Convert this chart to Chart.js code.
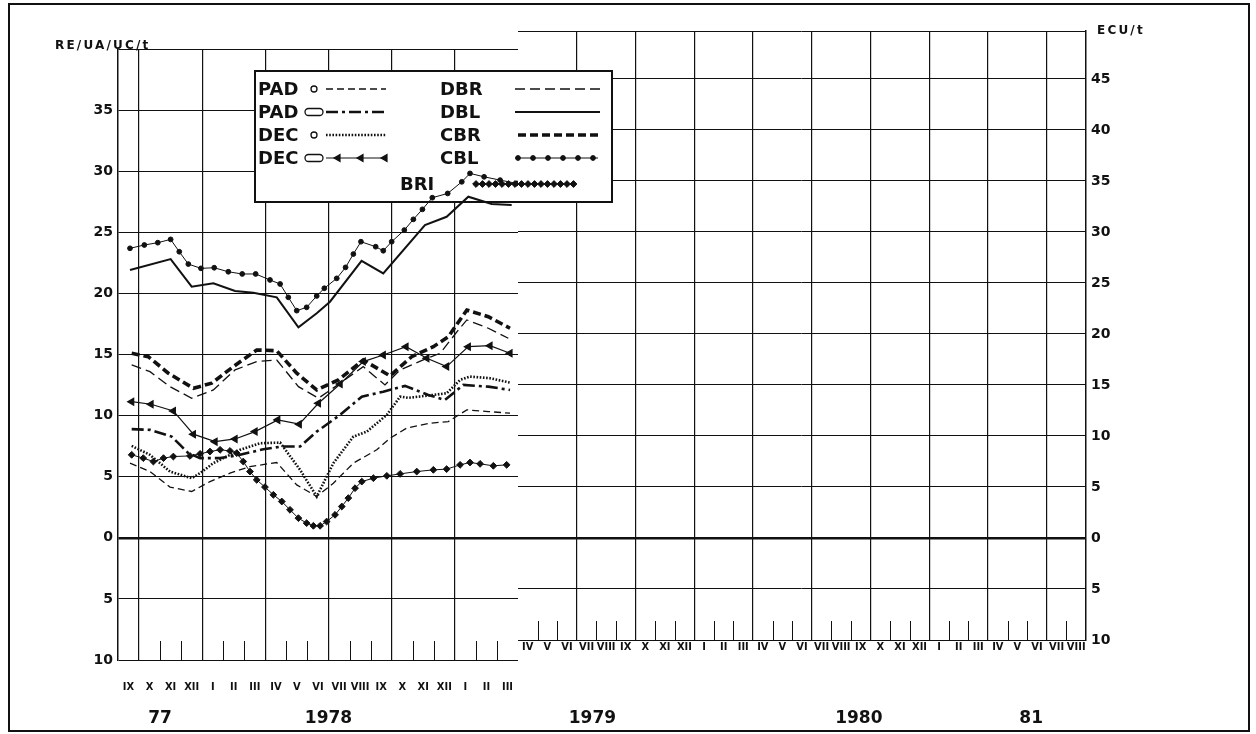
<!DOCTYPE html>
<html>
<head>
<meta charset="utf-8">
<script src="https://cdn.jsdelivr.net/npm/chart.js@4.4.1/dist/chart.umd.min.js"></script>
<style>
  body { margin: 0; background: #fff; }
  #frame { position: absolute; left: 8px; top: 3px; width: 1242px; height: 729px; border: 2px solid #111; box-sizing: border-box; }
  canvas { position: absolute; left: 0; top: 0; }
</style>
</head>
<body>
<div id="frame"></div>
<canvas id="right" width="1256" height="734"></canvas>
<canvas id="left" width="1256" height="734"></canvas>
<script>
// months counted from the start of IX 1977 (left) and IV 1979 (right)
const leftMonths = ['IX','X','XI','XII','I','II','III','IV','V','VI','VII','VIII','IX','X','XI','XII','I','II','III'];
const leftYears = ['77', '1978'];
const leftYearAt = [2.0, 10.0];
const rightMonths = ['IV','V','VI','VII','VIII','IX','X','XI','XII','I','II','III','IV','V','VI','VII','VIII','IX','X','XI','XII','I','II','III','IV','V','VI','VII','VIII'];
const rightYears = ['1979', '1980', '81'];
const rightYearAt = [3.8, 17.4, 26.2];
const leftTicks = [-10, -5, 0, 5, 10, 15, 20, 25, 30, 35, 40];
const rightTicks = [-10, -5, 0, 5, 10, 15, 20, 25, 30, 35, 40, 45, 49.7];

// PAD o
const padoM = [0.57,1.52,2.47,3.5,4.37,5.32,6.27,7.54,8.49,9.44,10.23,11.18,12.29,12.92,13.71,14.82,15.69,16.57,17.59,18.62];
const padoV = [6.11,5.42,4.15,3.79,4.6,5.29,5.83,6.16,4.33,3.38,4.47,6.11,7.2,8.15,8.97,9.38,9.51,10.47,10.33,10.2];
// PAD (pill)
const padlM = [0.65,1.52,2.55,2.95,3.34,3.9,4.85,5.8,6.9,7.78,8.65,9.44,10.55,11.58,12.6,13.63,14.74,15.53,16.4,17.59,18.62];
const padlV = [8.89,8.83,8.28,7.6,6.93,6.52,6.52,6.79,7.25,7.47,7.47,8.69,10.06,11.55,11.96,12.43,11.69,11.28,12.51,12.37,12.1];
// DEC o
const decoM = [0.65,1.52,2.47,3.5,3.9,4.53,5.8,6.75,7.7,8.65,9.44,10.23,11.18,11.82,12.77,13.4,13.78,14.96,15.61,16.25,16.72,17.67,18.62];
const decoV = [7.52,6.79,5.42,4.88,5.29,6.11,7.2,7.74,7.79,5.56,3.38,6.11,8.28,8.69,10.06,11.55,11.45,11.69,11.83,12.92,13.19,13.06,12.7];
// DEC (pill)
const declM = [0.65,1.57,2.63,3.58,4.61,5.56,6.51,7.59,8.61,9.52,10.55,11.65,12.6,13.68,14.67,15.61,16.64,17.67,18.62];
const declV = [11.14,10.93,10.38,8.48,7.87,8.09,8.69,9.65,9.3,11.01,12.59,14.42,14.96,15.64,14.69,14.01,15.64,15.72,15.1];
// DBR
const dbrM = [0.65,1.52,2.47,3.5,4.53,5.56,6.59,7.54,8.57,9.52,10.55,11.65,12.68,13.4,14.67,15.3,16.17,16.57,17.59,18.54];
const dbrV = [14.15,13.6,12.37,11.42,12.1,13.74,14.42,14.55,12.37,11.42,12.65,14.01,12.51,13.74,14.69,15.1,17.01,17.83,17.15,16.33];
// DBL
const dblM = [0.57,2.5,3.5,4.53,5.56,6.43,7.54,8.57,9.44,10.07,11.57,12.6,14.58,15.61,16.64,17.75,18.7];
const dblV = [21.91,22.81,20.55,20.83,20.2,20.06,19.68,17.23,18.37,19.32,22.67,21.64,25.59,26.27,27.91,27.31,27.23];
// CBR
const cbrM = [0.65,1.44,2.39,3.58,4.45,5.48,6.59,7.54,8.49,9.44,10.47,11.65,12.92,13.95,14.98,15.69,16.57,17.59,18.62];
const cbrV = [15.1,14.82,13.47,12.24,12.65,14.01,15.37,15.31,13.47,12.1,12.92,14.55,13.25,14.82,15.64,16.46,18.64,18.09,17.15];
// CBL
const cblM = [0.57,1.25,1.89,2.5,2.91,3.34,3.94,4.57,5.24,5.9,6.54,7.22,7.7,8.09,8.49,8.96,9.44,9.8,10.39,10.81,11.18,11.54,12.24,12.6,13.0,13.6,14.03,14.46,14.93,15.66,16.33,16.72,17.39,18.15,18.94];
const cblV = [23.69,23.96,24.15,24.42,23.41,22.4,22.05,22.1,21.77,21.59,21.59,21.1,20.77,19.68,18.59,18.86,19.79,20.42,21.23,22.13,23.22,24.23,23.82,23.49,24.23,25.18,26.06,26.88,27.83,28.18,29.13,29.82,29.54,29.27,29.0];
// BRI
const briM = [0.65,1.2,1.68,2.16,2.63,3.42,3.9,4.37,4.85,5.32,5.64,5.95,6.27,6.59,6.98,7.38,7.78,8.17,8.57,8.96,9.28,9.6,9.91,10.31,10.63,10.94,11.26,11.58,12.13,12.77,13.4,14.19,14.98,15.61,16.25,16.72,17.2,17.83,18.46];
const briV = [6.79,6.52,6.24,6.52,6.65,6.7,6.87,7.06,7.2,7.11,6.93,6.24,5.42,4.74,4.15,3.52,2.97,2.29,1.61,1.2,0.98,0.98,1.33,1.88,2.56,3.25,4.06,4.6,4.88,5.07,5.23,5.42,5.56,5.62,5.97,6.16,6.05,5.89,5.97];

const INK = '#111';
const FONT = '"DejaVu Sans", "Liberation Sans", sans-serif';
const NARROW = '"Liberation Sans Narrow", "DejaVu Sans Condensed", "Liberation Sans", sans-serif';

function pts(ms, vs) { return ms.map((m, i) => ({ x: m, y: vs[i] })); }

const leftQuarter = v => v > 0 && v < 19 && (v - 1) % 3 === 0;
const rightQuarter = v => v > 0 && v < 29 && v % 3 === 0;

// month boundary marks standing on the bottom line
const monthTicks = {
  id: 'monthTicks',
  afterDraw(chart, args, opts) {
    const x = chart.scales.x, a = chart.chartArea, ctx = chart.ctx;
    ctx.save();
    ctx.strokeStyle = INK;
    ctx.lineWidth = 1;
    for (let v = x.min + 1; v < x.max; v++) {
      if (opts.quarter(v)) continue;
      const px = Math.round(x.getPixelForValue(v)) + 0.5;
      ctx.beginPath();
      ctx.moveTo(px, a.bottom);
      ctx.lineTo(px, a.bottom - 19);
      ctx.stroke();
    }
    ctx.restore();
  }
};

const unitTitle = {
  id: 'unitTitle',
  afterDraw(chart, args, opts) {
    const ctx = chart.ctx;
    ctx.save();
    ctx.font = 'bold 12px ' + FONT;
    ctx.letterSpacing = '2.2px';
    ctx.fillStyle = INK;
    ctx.textBaseline = 'middle';
    ctx.fillText(opts.text, opts.x, opts.y);
    ctx.restore();
  }
};

// legend box, drawn under the lines
const legendRows = [
  { ds: 0, text: 'PAD', tx: 258, y: 89, sym: 'circle', x1: 326, x2: 386 },
  { ds: 1, text: 'PAD', tx: 258, y: 112, sym: 'pill', x1: 326, x2: 386 },
  { ds: 2, text: 'DEC', tx: 258, y: 135, sym: 'circle', x1: 326, x2: 386 },
  { ds: 3, text: 'DEC', tx: 258, y: 158, sym: 'pill', x1: 326, x2: 386, marks: [338, 361, 385] },
  { ds: 4, text: 'DBR', tx: 440, y: 89, x1: 515, x2: 600 },
  { ds: 5, text: 'DBL', tx: 440, y: 112, x1: 515, x2: 600 },
  { ds: 6, text: 'CBR', tx: 440, y: 135, x1: 518, x2: 598 },
  { ds: 7, text: 'CBL', tx: 440, y: 158, x1: 515, x2: 598, step: 15 },
  { ds: 8, text: 'BRI', tx: 400, y: 184, x1: 473, x2: 576, step: 6.5 }
];
const legendBox = {
  id: 'legendBox',
  beforeDatasetsDraw(chart) {
    const ctx = chart.ctx;
    ctx.save();
    ctx.fillStyle = '#fff';
    ctx.fillRect(255, 71, 357, 131);
    ctx.strokeStyle = INK;
    ctx.lineWidth = 2;
    ctx.strokeRect(255, 71, 357, 131);
    ctx.font = 'bold 18px ' + FONT;
    ctx.textBaseline = 'middle';
    ctx.fillStyle = INK;
    legendRows.forEach(r => {
      const d = chart.data.datasets[r.ds];
      ctx.fillText(r.text, r.tx, r.y + 1);
      ctx.lineWidth = 1.3;
      ctx.setLineDash([]);
      if (r.sym === 'circle') {
        ctx.beginPath(); ctx.arc(314, r.y, 3, 0, Math.PI * 2); ctx.stroke();
      } else if (r.sym === 'pill') {
        ctx.beginPath(); ctx.roundRect(305, r.y - 3.5, 18, 7, 3.5); ctx.stroke();
      }
      ctx.lineWidth = d.borderWidth;
      ctx.setLineDash(d.borderDash || []);
      ctx.beginPath(); ctx.moveTo(r.x1, r.y); ctx.lineTo(r.x2, r.y); ctx.stroke();
      ctx.setLineDash([]);
      const pOpt = { pointStyle: d.pointStyle, radius: d.pointRadius, rotation: d.rotation || 0, borderWidth: 1 };
      ctx.fillStyle = INK;
      if (r.marks) r.marks.forEach(mx => Chart.helpers.drawPoint(ctx, pOpt, mx, r.y));
      if (r.step) for (let mx = r.x1 + 3; mx <= r.x2; mx += r.step) Chart.helpers.drawPoint(ctx, pOpt, mx, r.y);
    });
    ctx.restore();
  }
};

function bottomAxis(weight, height, ticksAt, labels, font, pad, max) {
  return {
    type: 'linear', min: 0, max: max, position: 'bottom', weight: weight,
    afterBuildTicks: s => { s.ticks = ticksAt.map(v => ({ value: v })); },
    afterFit: s => { s.height = height; },
    grid: { display: false, drawTicks: false },
    border: { display: false },
    ticks: { autoSkip: false, maxRotation: 0, padding: pad, color: INK, font: font,
             callback: (v, i) => labels[i] }
  };
}

const leftBoundaries = leftMonths.map((m, i) => i).concat([leftMonths.length]);
const rightBoundaries = rightMonths.map((m, i) => i).concat([rightMonths.length]);

new Chart(document.getElementById('left'), {
  type: 'line',
  data: {
    datasets: [
      { label: 'PAD o', data: pts(padoM, padoV), borderColor: INK, borderWidth: 1.3, borderDash: [7, 4] },
      { label: 'PAD pill', data: pts(padlM, padlV), borderColor: INK, borderWidth: 2.6, borderDash: [12, 4, 3, 4] },
      { label: 'DEC o', data: pts(decoM, decoV), borderColor: INK, borderWidth: 2.6, borderDash: [1.6, 1.6] },
      { label: 'DEC pill', data: pts(declM, declV), borderColor: INK, borderWidth: 1.2,
        pointStyle: 'triangle', rotation: -90, pointRadius: 4, pointBackgroundColor: INK, pointBorderColor: INK },
      { label: 'DBR', data: pts(dbrM, dbrV), borderColor: INK, borderWidth: 1.3, borderDash: [10, 5] },
      { label: 'DBL', data: pts(dblM, dblV), borderColor: INK, borderWidth: 2 },
      { label: 'CBR', data: pts(cbrM, cbrV), borderColor: INK, borderWidth: 3.6, borderDash: [8, 4] },
      { label: 'CBL', data: pts(cblM, cblV), borderColor: INK, borderWidth: 1,
        pointStyle: 'circle', pointRadius: 2.4, pointBackgroundColor: INK, pointBorderColor: INK },
      { label: 'BRI', data: pts(briM, briV), borderColor: INK, borderWidth: 1,
        pointStyle: 'rectRot', pointRadius: 3.4, pointBackgroundColor: INK, pointBorderColor: INK }
    ]
  },
  options: {
    responsive: false,
    animation: false,
    layout: { padding: { left: 0, right: 738, top: 49, bottom: 0 } },
    elements: { line: { tension: 0 }, point: { radius: 0, hoverRadius: 0 } },
    plugins: {
      legend: { display: false },
      tooltip: { enabled: false },
      monthTicks: { quarter: leftQuarter },
      unitTitle: { text: 'RE/UA/UC/t', x: 55, y: 46 }
    },
    scales: {
      x: {
        type: 'linear', min: 0, max: leftMonths.length, position: 'bottom', weight: 0,
        afterBuildTicks: s => { s.ticks = leftBoundaries.map(v => ({ value: v })); },
        afterFit: s => { s.height = 0; },
        ticks: { display: false },
        border: { display: false },
        grid: { drawTicks: false, lineWidth: 1.2, color: c => leftQuarter(c.tick.value) ? INK : 'rgba(0,0,0,0)' }
      },
      xm: bottomAxis(1, 36, leftMonths.map((m, i) => i + 0.5), leftMonths, { family: NARROW, size: 11, weight: 'bold' }, 21, leftMonths.length),
      xy: bottomAxis(2, 38, leftYearAt, leftYears, { family: FONT, size: 17, weight: 'bold' }, 12, leftMonths.length),
      y: {
        type: 'linear', min: -10, max: 40, position: 'left',
        afterBuildTicks: s => { s.ticks = leftTicks.map(v => ({ value: v })); },
        afterFit: s => { s.width = 118; },
        border: { display: true, color: INK, width: 1.5 },
        grid: { drawTicks: false, color: INK, lineWidth: c => c.tick.value === 0 ? 2.6 : 1 },
        ticks: { padding: 5, color: INK, font: { family: FONT, size: 14, weight: 'bold' },
                 callback: v => v === 40 ? '' : String(Math.abs(v)) }
      }
    }
  },
  plugins: [legendBox, monthTicks, unitTitle]
});

new Chart(document.getElementById('right'), {
  type: 'line',
  data: { datasets: [] },
  options: {
    responsive: false,
    animation: false,
    layout: { padding: { left: 518, right: 0, top: 31, bottom: 0 } },
    plugins: {
      legend: { display: false },
      tooltip: { enabled: false },
      monthTicks: { quarter: rightQuarter },
      unitTitle: { text: 'ECU/t', x: 1097, y: 31 }
    },
    scales: {
      x: {
        type: 'linear', min: 0, max: rightMonths.length, position: 'bottom', weight: 0,
        afterBuildTicks: s => { s.ticks = rightBoundaries.map(v => ({ value: v })); },
        afterFit: s => { s.height = 0; },
        ticks: { display: false },
        border: { display: false },
        grid: { drawTicks: false, lineWidth: 1.2, color: c => rightQuarter(c.tick.value) ? INK : 'rgba(0,0,0,0)' }
      },
      xm: bottomAxis(1, 40, rightMonths.map((m, i) => i + 0.5), rightMonths, { family: NARROW, size: 11, weight: 'bold' }, 1, rightMonths.length),
      xy: bottomAxis(2, 54, rightYearAt, rightYears, { family: FONT, size: 17, weight: 'bold' }, 28, rightMonths.length),
      y: {
        type: 'linear', min: -10, max: 49.7, position: 'right',
        afterBuildTicks: s => { s.ticks = rightTicks.map(v => ({ value: v })); },
        afterFit: s => { s.width = 170; },
        border: { display: true, color: INK, width: 1.5 },
        grid: { drawTicks: false, color: INK, lineWidth: c => c.tick.value === 0 ? 2.6 : 1 },
        ticks: { padding: 5, color: INK, font: { family: FONT, size: 14, weight: 'bold' },
                 callback: v => v === 49.7 ? '' : String(Math.abs(v)) }
      }
    }
  },
  plugins: [monthTicks, unitTitle]
});
</script>
</body>
</html>
